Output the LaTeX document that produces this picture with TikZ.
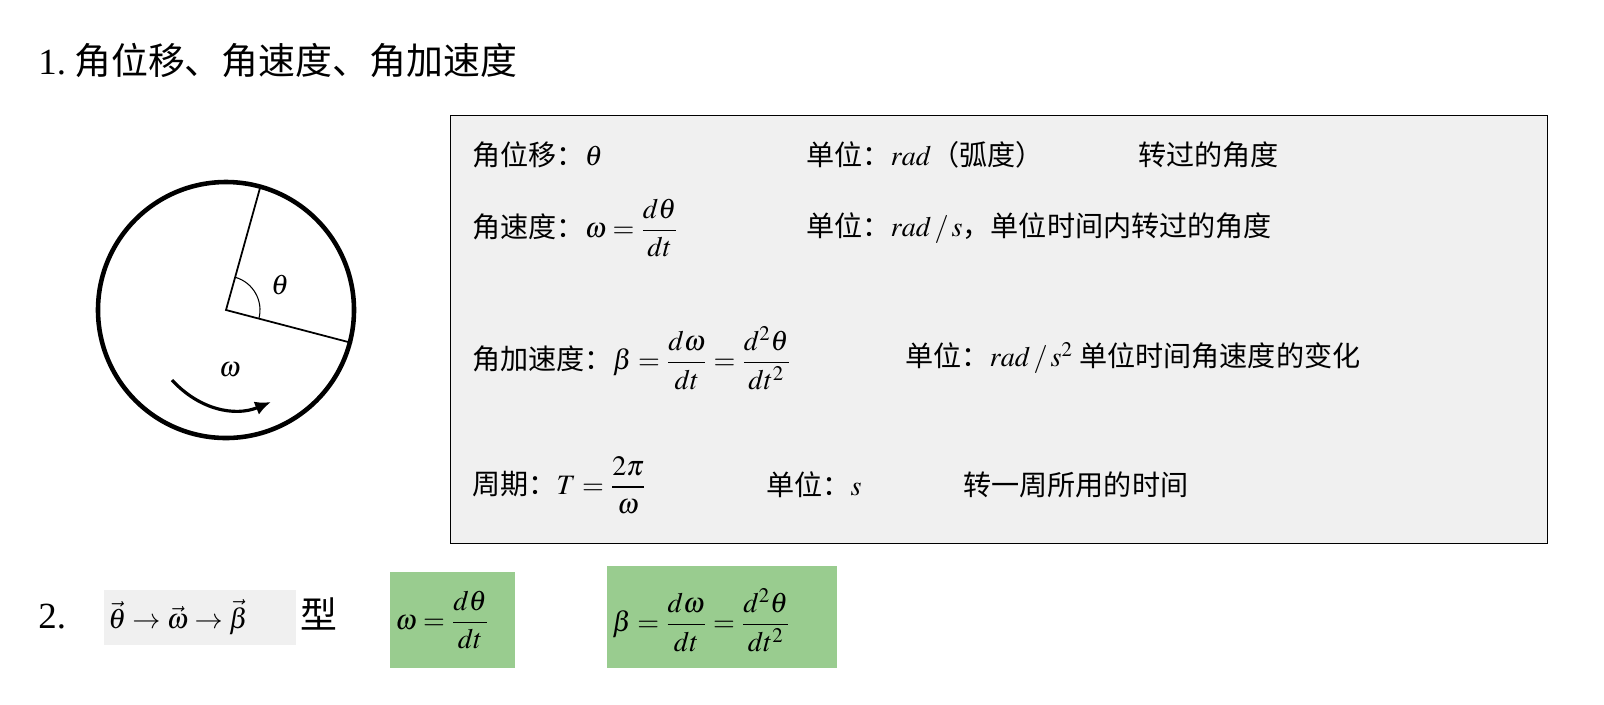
\documentclass[tikz,border=0pt]{standalone}
\usepackage{amsmath}
\usepackage{fontspec}
\usepackage{mathptmx}
\setmainfont{Liberation Serif}
\newfontfamily\cjk{Noto Sans CJK SC}
\usetikzlibrary{arrows.meta}
\definecolor{boxgray}{RGB}{240,240,240}
\definecolor{formgreen}{RGB}{153,204,143}
\begin{document}
\begin{tikzpicture}[x=0.02cm,y=-0.02cm]
		\useasboundingbox (0,0) rectangle (1604,704);
		\tikzset{txt/.style={anchor=west, inner sep=0pt, font=\fontsize{16}{19}\selectfont\cjk}}
		
		% Title
		\node[txt, font=\fontsize{21}{25}\selectfont\cjk] (title) at (38,60) {{\rmfamily 1.}\ 角位移、角速度、角加速度};
		
		% Wheel
		\coordinate (o) at (226,310);
		\draw[line width=2.6pt] (o) circle (128);
		\coordinate (p) at (260,188);
		\coordinate (q) at (352,343);
		\draw[line width=1pt] (p) -- (o) -- (q);
		\draw[line width=0.6pt] (o) ++(14.7:34) arc[start angle=14.7, end angle=-74.4, radius=34];
		\node[font=\fontsize{16}{19}\selectfont] (theta) at (280,285) {$\theta$};
		\draw[line width=1.8pt, -{Latex[length=9pt,width=8pt]}] (172,380) to[bend right=35] (271,402);
		\node[font=\fontsize{16}{19}\selectfont] (omega) at (230,370) {$\omega$};
		
		% Formula box
		\node[draw=black, thick, fill=boxgray, minimum width=1097*0.02cm, minimum height=428*0.02cm, anchor=north west] (box) at (450,115) {};
		\node[txt] (r1a) at (472,155) {角位移：$\theta$};
		\node[txt] (r1b) at (806,155) {单位：$rad$（弧度）};
		\node[txt] (r1c) at (1138,155) {转过的角度};
		\node[txt] (r2a) at (472,228) {角速度：$\omega=\dfrac{d\theta}{dt}$};
		\node[txt] (r2b) at (806,228) {单位：$rad\,/\,s$，单位时间内转过的角度};
		\node[txt] (r3a) at (472,358) {角加速度：$\beta=\dfrac{d\omega}{dt}=\dfrac{d^2\theta}{dt^2}$};
		\node[txt] (r3b) at (905,358) {单位：$rad\,/\,s^2$ 单位时间角速度的变化};
		\node[txt] (r4a) at (472,485) {周期：$T=\dfrac{2\pi}{\omega}$};
		\node[txt] (r4b) at (766,485) {单位：$s$};
		\node[txt] (r4c) at (963,485) {转一周所用的时间};
		
		% Second part
		\node[txt, font=\fontsize{21}{25}\selectfont] (two) at (38,617) {2.};
		\fill[boxgray] (104,590) rectangle (296,645);
		\node[txt] (chain) at (108,617) {$\vec{\theta}\rightarrow\vec{\omega}\rightarrow\vec{\beta}$};
		\node[txt, font=\fontsize{21}{25}\selectfont\cjk] (xing) at (300,614) {型};
		\fill[formgreen] (390,572) rectangle (515,668);
		\node[txt] (g1) at (395,620) {$\omega=\dfrac{d\theta}{dt}$};
		\fill[formgreen] (607,566) rectangle (837,668);
		\node[txt] (g2) at (612,620) {$\beta=\dfrac{d\omega}{dt}=\dfrac{d^2\theta}{dt^2}$};
\end{tikzpicture}
\end{document}
